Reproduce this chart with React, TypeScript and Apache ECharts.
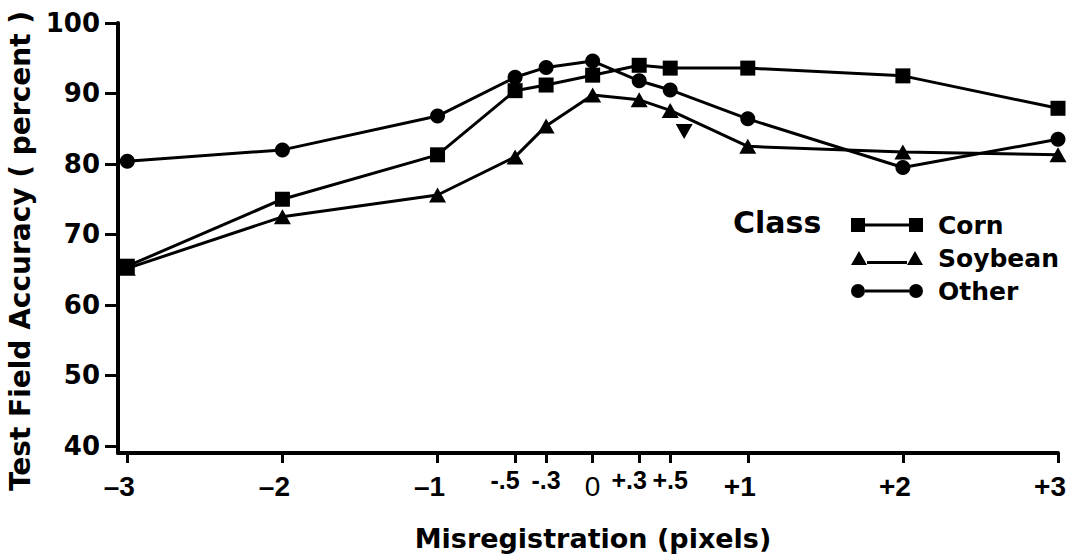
import React, { useEffect, useRef } from "react";
import * as echarts from "echarts";

// ---- data ----
const xValues = [-3, -2, -1, -0.5, -0.3, 0, 0.3, 0.5, 1, 2, 3];
const xTickLabels = ["–3", "–2", "–1", "-.5", "-.3", "0", "+.3", "+.5", "+1", "+2", "+3"];
const yTicks = [40, 50, 60, 70, 80, 90, 100];
const cornValues = [65.5, 75.0, 81.3, 90.4, 91.2, 92.6, 94.0, 93.6, 93.6, 92.5, 87.9];
const soybeanValues = [65.2, 72.5, 75.6, 81.0, 85.4, 89.8, 89.1, 87.6, 82.5, 81.7, 81.3];
const otherValues = [80.4, 82.0, 86.8, 92.3, 93.7, 94.6, 91.8, 90.5, 86.4, 79.5, 83.5];
const extraPoint = [[0.59, 84.6]];
const seriesNames = ["Corn", "Soybean", "Other"];

// label style key per tick (styling only)
const xLabelStyleKeys = ["n", "n", "n", "sl", "s", "z", "sl", "s", "p", "p", "p"];

const FONT = "DejaVu Sans";
const XFONT = "Liberation Sans";

const squareIcon = "path://M0,0h14v14h-14z M14,5.5h44v3h-44z M58,0h14v14h-14z";
const triIcon = "path://M0,14L8,0L16,14z M16,10h40v3h-40z M56,14L64,0L72,14z";
const circleIcon =
  "path://M0,7a7,7 0 1,0 14,0a7,7 0 1,0 -14,0z M14,5.5h44v3h-44z M58,7a7,7 0 1,0 14,0a7,7 0 1,0 -14,0z";

function zip(xs: number[], ys: number[]) {
  return xs.map((x, i) => [x, ys[i]]);
}

function xLabel(v: number) {
  let idx = -1;
  for (let i = 0; i < xValues.length; i++) {
    if (Math.abs(xValues[i] - v) < 1e-6) idx = i;
  }
  if (idx < 0) return "";
  return "{" + xLabelStyleKeys[idx] + "|" + xTickLabels[idx] + "}";
}

export default function App() {
  const ref = useRef<HTMLDivElement>(null);
  useEffect(() => {
    if (!ref.current) return;
    const chart = echarts.init(ref.current, null, { renderer: "svg" });
    const black = "#000";
    const lineCommon = {
      type: "line" as const,
      lineStyle: { color: black, width: 3 },
      itemStyle: { color: black },
      emphasis: { disabled: true },
    };
    const big = { fontFamily: XFONT, fontWeight: "bold", fontSize: 28, color: black };
    const small = { fontFamily: XFONT, fontWeight: "bold", fontSize: 25, color: black };
    chart.setOption({
      animation: false,
      backgroundColor: "#fff",
      textStyle: { fontFamily: FONT },
      grid: { left: 118, right: 19, top: 23, bottom: 103, outerBoundsMode: "none", containLabel: false },
      xAxis: {
        type: "value",
        min: -3.06,
        max: 3,
        axisLine: { show: true, onZero: false, lineStyle: { color: black, width: 4 } },
        axisTick: { show: true, customValues: xValues, length: 10, lineStyle: { color: black, width: 3 } },
        axisLabel: {
          customValues: xValues,
          formatter: xLabel,
          margin: 14,
          color: black,
          rich: {
            n: { ...big, padding: [5, 16, 0, 0] },
            p: { ...big, padding: [5, 16, 0, 0] },
            z: { ...big, fontWeight: "normal", padding: [5, 0, 0, 0] },
            s: { ...small, padding: [0, 0, 0, 0] },
            sl: { ...small, padding: [0, 20, 0, 0] },
          },
        },
        splitLine: { show: false },
        name: "Misregistration (pixels)",
        nameLocation: "middle",
        nameGap: 72,
        nameTextStyle: { fontFamily: FONT, fontWeight: "bold", fontSize: 27, color: black, padding: [0, 0, 0, 10] },
      },
      yAxis: {
        type: "value",
        min: 39,
        max: 100,
        axisLine: { show: true, onZero: false, lineStyle: { color: black, width: 4 } },
        axisTick: { show: true, customValues: yTicks, length: 13, lineStyle: { color: black, width: 3 } },
        axisLabel: {
          customValues: yTicks,
          margin: 18,
          fontFamily: FONT,
          fontWeight: "bold",
          fontSize: 26,
          color: black,
        },
        splitLine: { show: false },
        name: "Test Field Accuracy ( percent )",
        nameLocation: "middle",
        nameGap: 82,
        nameTextStyle: { fontFamily: FONT, fontWeight: "bold", fontSize: 28, color: black, padding: [0, 26, 0, 0] },
      },
      legend: {
        orient: "vertical",
        left: 846,
        top: 207,
        itemWidth: 72,
        itemHeight: 14,
        itemGap: 7,
        selectedMode: false,
        data: [
          { name: seriesNames[0], icon: squareIcon },
          { name: seriesNames[1], icon: triIcon },
          { name: seriesNames[2], icon: circleIcon },
        ],
        itemStyle: { color: black },
        textStyle: {
          fontFamily: FONT,
          fontWeight: "bold",
          fontSize: 25,
          color: black,
          lineHeight: 26,
          padding: [0, 0, 0, 10],
        },
      },
      graphic: [
        {
          type: "text",
          x: 733,
          y: 222,
          style: {
            text: "Class",
            fill: black,
            font: "bold 30px '" + FONT + "'",
            verticalAlign: "middle",
            align: "left",
          },
        },
      ],
      series: [
        { ...lineCommon, name: seriesNames[0], symbol: "rect", symbolSize: 15, data: zip(xValues, cornValues) },
        { ...lineCommon, name: seriesNames[1], symbol: "triangle", symbolSize: [17, 15], data: zip(xValues, soybeanValues) },
        { ...lineCommon, name: seriesNames[2], symbol: "circle", symbolSize: 15, data: zip(xValues, otherValues) },
        {
          type: "scatter",
          name: "Soybean extra",
          symbol: "triangle",
          symbolRotate: 180,
          symbolSize: [17, 15],
          itemStyle: { color: black, opacity: 1 },
          emphasis: { disabled: true },
          data: extraPoint,
        },
      ],
    });
    return () => chart.dispose();
  }, []);
  return (
    <div
      ref={ref}
      style={{ position: "fixed", left: 0, top: 0, width: 1077, height: 556, background: "#fff" }}
    />
  );
}
